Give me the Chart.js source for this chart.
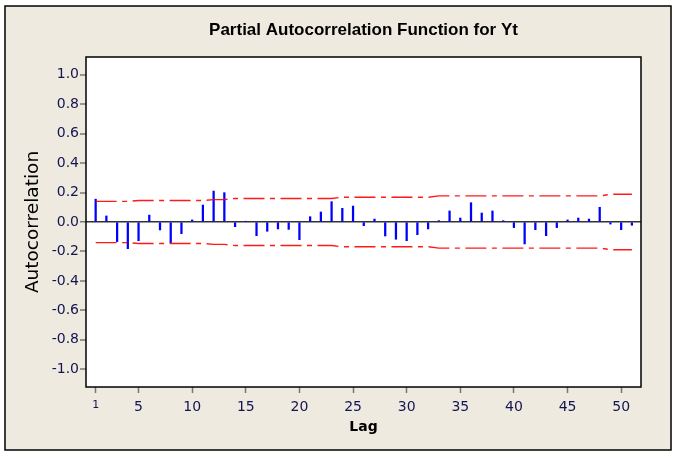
<!DOCTYPE html>
<html>
<head>
<meta charset="utf-8">
<script src="https://cdn.jsdelivr.net/npm/chart.js@4.4.1/dist/chart.umd.min.js"></script>
<style>
html,body{margin:0;padding:0;background:#fff;}
#wrap{width:676px;height:455px;position:relative;}
</style>
</head>
<body>
<div id="wrap"><canvas id="c"></canvas></div>
<script>
const lags = [1,2,3,4,5,6,7,8,9,10,11,12,13,14,15,16,17,18,19,20,21,22,23,24,25,26,27,28,29,30,31,32,33,34,35,36,37,38,39,40,41,42,43,44,45,46,47,48,49,50,51];
const pacfValues = [0.155,0.041,-0.133,-0.181,-0.127,0.047,-0.054,-0.140,-0.079,0.014,
  0.115,0.210,0.199,-0.032,0.004,-0.093,-0.063,-0.047,-0.050,-0.120,
  0.036,0.068,0.138,0.093,0.108,-0.025,0.020,-0.095,-0.117,-0.127,
  -0.086,-0.047,0.009,0.075,0.027,0.131,0.061,0.075,0.009,-0.038,
  -0.149,-0.052,-0.093,-0.038,0.014,0.027,0.020,0.100,-0.014,-0.052,-0.022];
const upperLimit = [0.140,0.140,0.140,0.140,0.146,0.146,0.146,0.146,0.146,0.146,
  0.146,0.152,0.152,0.160,0.160,0.160,0.160,0.160,0.160,0.160,
  0.160,0.160,0.160,0.168,0.168,0.168,0.168,0.168,0.168,0.168,
  0.168,0.168,0.177,0.177,0.177,0.177,0.177,0.177,0.177,0.177,
  0.177,0.177,0.177,0.177,0.177,0.177,0.177,0.177,0.188,0.188,0.188];
const lowerLimit = upperLimit.map(v => -v);
const xTickValues = [1,5,10,15,20,25,30,35,40,45,50];
const yTickValues = [-1.0,-0.8,-0.6,-0.4,-0.2,0.0,0.2,0.4,0.6,0.8,1.0];

const frame = {
  id: 'frame',
  beforeDraw(chart) {
    const {ctx, chartArea: a} = chart;
    ctx.save();
    ctx.fillStyle = '#ffffff';
    ctx.fillRect(0, 0, chart.width, chart.height);
    ctx.fillStyle = '#EEEAE0';
    ctx.fillRect(5, 6, 666, 444);
    ctx.strokeStyle = '#000';
    ctx.lineWidth = 1.5;
    ctx.strokeRect(5, 6, 666, 444);
    ctx.fillStyle = '#ffffff';
    ctx.fillRect(a.left, a.top, a.right - a.left, a.bottom - a.top);
    ctx.restore();
  },
  afterDraw(chart) {
    const {ctx, chartArea: a} = chart;
    ctx.save();
    ctx.strokeStyle = '#000';
    ctx.lineWidth = 1.5;
    ctx.strokeRect(a.left, a.top, a.right - a.left, a.bottom - a.top);
    ctx.restore();
  }
};

const tickFont = {family: "'DejaVu Sans', Verdana, sans-serif", size: 14};
const limitStyle = {
  borderColor: 'rgba(255,0,0,0.9)',
  borderWidth: 1.4,
  borderDash: [21, 5.5, 5, 5.5],
  pointRadius: 0,
  fill: false,
  order: 1
};
new Chart(document.getElementById('c'), {
  data: {
    datasets: [
      {
        type: 'bar',
        data: lags.map((l, i) => ({x: l, y: pacfValues[i]})),
        backgroundColor: '#0000ff',
        borderWidth: 0,
        barThickness: 1.6,
        order: 2
      },
      Object.assign({type: 'line', data: lags.map((l, i) => ({x: l, y: upperLimit[i]}))}, limitStyle),
      Object.assign({type: 'line', data: lags.map((l, i) => ({x: l, y: lowerLimit[i]}))}, limitStyle)
    ]
  },
  options: {
    responsive: true,
    maintainAspectRatio: false,
    animation: false,
    layout: {padding: {left: 0, right: 35, top: 0, bottom: 0}},
    plugins: {
      legend: {display: false},
      tooltip: {enabled: false},
      title: {
        display: true,
        fullSize: false,
        text: 'Partial Autocorrelation Function for Yt',
        color: '#000',
        font: {family: "'Liberation Sans', Arial, sans-serif", size: 17, weight: 'bold'},
        padding: {top: 20, bottom: 16.6},
        align: 'center'
      }
    },
    scales: {
      x: {
        type: 'linear',
        offset: false,
        min: 0.1,
        max: 51.85,
        afterBuildTicks(s) { s.ticks = xTickValues.map(v => ({value: v})); },
        afterFit(s) { s.height = 68; },
        grid: {display: true, offset: false, drawOnChartArea: false, drawTicks: true, tickLength: 6, tickColor: '#777', tickWidth: 1.5},
        border: {display: false},
        ticks: {
          color: '#141450',
          font: (c) => (c.tick && c.tick.value === 1) ? {family: tickFont.family, size: 11} : tickFont,
          padding: 6,
          maxRotation: 0,
          autoSkip: false,
          callback: (v) => String(v)
        },
        title: {
          display: true,
          text: 'Lag',
          color: '#000',
          font: {family: "'DejaVu Sans', Verdana, sans-serif", size: 14, weight: 'bold'},
          padding: {top: 0, bottom: 19}
        }
      },
      y: {
        type: 'linear',
        min: -1.12,
        max: 1.12,
        afterBuildTicks(s) { s.ticks = yTickValues.map(v => ({value: v})); },
        afterFit(s) { s.width = 86; },
        grid: {
          display: true,
          drawTicks: true,
          tickLength: 6,
          tickColor: '#777',
          tickWidth: 1.5,
          lineWidth: (c) => (c.tick && Math.abs(c.tick.value) < 1e-9) ? 1.5 : 0,
          color: (c) => (c.tick && Math.abs(c.tick.value) < 1e-9) ? '#333' : 'rgba(0,0,0,0)'
        },
        border: {display: false},
        ticks: {
          color: '#141450',
          font: tickFont,
          padding: 1,
          callback: (v) => Number(v).toFixed(1)
        },
        title: {
          display: true,
          text: 'Autocorrelation',
          color: '#000',
          font: {family: "'DejaVu Sans', Verdana, sans-serif", size: 18.5},
          padding: {top: 22, bottom: 0}
        }
      }
    }
  },
  plugins: [frame]
});
</script>
</body>
</html>
